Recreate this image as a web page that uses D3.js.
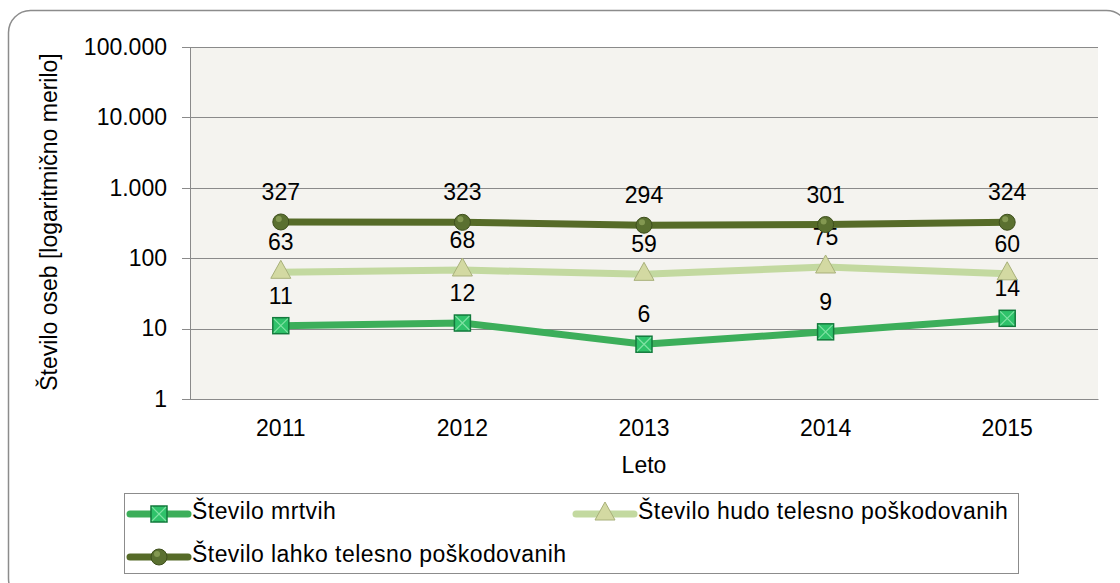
<!DOCTYPE html>
<html>
<head>
<meta charset="utf-8">
<script src="https://cdn.jsdelivr.net/npm/d3@7"></script>
<style>
  body { margin: 0; background: #fff; }
  svg { font-family: "Liberation Sans", Arial, sans-serif; }
</style>
</head>
<body>
<svg id="chart" width="1120" height="583"></svg>
<script>
// Data
const years = ["2011", "2012", "2013", "2014", "2015"];
const mrtvih = [11, 12, 6, 9, 14];
const hudo = [63, 68, 59, 75, 60];
const lahko = [327, 323, 294, 301, 324];
const yTicks = [1, 10, 100, 1000, 10000, 100000];

const series = [
  { name: "Število mrtvih", values: mrtvih, color: "#3cae5a", marker: "square" },
  { name: "Število hudo telesno poškodovanih", values: hudo, color: "#c3d9a0", marker: "triangle" },
  { name: "Število lahko telesno poškodovanih", values: lahko, color: "#566b28", marker: "circle" }
];

const FS = 23;
const svg = d3.select("#chart");

// outer frame
svg.append("rect")
  .attr("x", 8.5).attr("y", 10.5)
  .attr("width", 1120).attr("height", 590)
  .attr("rx", 22)
  .attr("fill", "#fff")
  .attr("stroke", "#8c8c8c")
  .attr("stroke-width", 1.5);

const margin = { top: 47, left: 190, right: 1098, bottom: 399 };

const x = d3.scaleBand()
  .domain(years)
  .range([margin.left, margin.right]);

const y = d3.scaleLog()
  .domain([1, 100000])
  .range([margin.bottom, margin.top]);

// plot background
svg.append("rect")
  .attr("x", margin.left).attr("y", margin.top)
  .attr("width", margin.right - margin.left)
  .attr("height", margin.bottom - margin.top)
  .attr("fill", "#f4f3ef");

// gridlines
svg.append("g")
  .selectAll("line")
  .data(yTicks)
  .enter().append("line")
  .attr("x1", margin.left - 8).attr("x2", margin.right)
  .attr("y1", d => Math.round(y(d)) + 0.5).attr("y2", d => Math.round(y(d)) + 0.5)
  .attr("stroke", "#8a8a8a")
  .attr("stroke-width", 1.2);

// y axis
const yAxis = svg.append("g")
  .attr("transform", "translate(" + margin.left + ",0)")
  .call(d3.axisLeft(y).tickValues(yTicks).tickSize(0).tickPadding(23)
    .tickFormat(d => d3.format(",")(d).replace(/,/g, ".")));
yAxis.select(".domain").attr("stroke", "#8a8a8a");
yAxis.selectAll("text").attr("font-size", FS).attr("fill", "#000")
  .attr("font-family", "Liberation Sans, Arial, sans-serif");

// x axis
const xAxis = svg.append("g")
  .attr("transform", "translate(0," + margin.bottom + ")")
  .call(d3.axisBottom(x).tickSize(0).tickPadding(21));
xAxis.select(".domain").attr("stroke", "#8a8a8a");
xAxis.selectAll("text").attr("font-size", FS).attr("fill", "#000")
  .attr("font-family", "Liberation Sans, Arial, sans-serif");

// axis titles
svg.append("text")
  .attr("x", (margin.left + margin.right) / 2)
  .attr("y", 473)
  .attr("text-anchor", "middle")
  .attr("font-size", FS)
  .text("Leto");

svg.append("text")
  .attr("transform", "translate(57,222) rotate(-90)")
  .attr("text-anchor", "middle")
  .attr("font-size", FS)
  .text("Število oseb [logaritmično merilo]");

const cx = d => x(d) + x.bandwidth() / 2;

const line = d3.line()
  .x((d, i) => cx(years[i]))
  .y(d => y(d));

function drawMarker(g, type, px, py) {
  if (type === "square") {
    g.append("rect")
      .attr("x", px - 8).attr("y", py - 8)
      .attr("width", 16).attr("height", 16)
      .attr("fill", "#2fc26a").attr("stroke", "#137a3c").attr("stroke-width", 1.5);
    g.append("path")
      .attr("d", `M${px - 7},${py - 7}L${px + 7},${py + 7}M${px + 7},${py - 7}L${px - 7},${py + 7}`)
      .attr("stroke", "#7fe2a3").attr("stroke-width", 1.2);
  } else if (type === "triangle") {
    g.append("path")
      .attr("d", `M${px},${py - 12}L${px + 10},${py + 6}L${px - 10},${py + 6}Z`)
      .attr("fill", "#d3d9a2").attr("stroke", "#a8b07a").attr("stroke-width", 1);
  } else {
    g.append("circle")
      .attr("cx", px).attr("cy", py).attr("r", 8)
      .attr("fill", "#5a7030").attr("stroke", "#3e4f1c").attr("stroke-width", 1);
    g.append("circle")
      .attr("cx", px - 2).attr("cy", py - 3).attr("r", 3)
      .attr("fill", "#8da25a").attr("opacity", 0.8);
  }
}

// lines
series.forEach(s => {
  svg.append("path")
    .datum(s.values)
    .attr("fill", "none")
    .attr("stroke", s.color)
    .attr("stroke-width", 7)
    .attr("d", line);
});

// markers and value labels
series.forEach(s => {
  const g = svg.append("g");
  s.values.forEach((v, i) => drawMarker(g, s.marker, cx(years[i]), y(v)));
  svg.append("g")
    .selectAll("text")
    .data(s.values)
    .enter().append("text")
    .attr("x", (d, i) => cx(years[i]))
    .attr("y", d => y(d) - 22)
    .attr("text-anchor", "middle")
    .attr("font-size", FS)
    .attr("fill", "#000")
    .text(d => d);
});

// legend
svg.append("rect")
  .attr("x", 124.5).attr("y", 493.5)
  .attr("width", 894).attr("height", 80)
  .attr("fill", "#fff")
  .attr("stroke", "#8c8c8c")
  .attr("stroke-width", 1);

const legendPos = [
  { x: 130, y: 514 },
  { x: 576, y: 514 },
  { x: 130, y: 557 }
];

series.forEach((s, i) => {
  const p = legendPos[i];
  const g = svg.append("g");
  g.append("line")
    .attr("x1", p.x).attr("x2", p.x + 58)
    .attr("y1", p.y).attr("y2", p.y)
    .attr("stroke", s.color).attr("stroke-width", 7)
    .attr("stroke-linecap", "round");
  drawMarker(g, s.marker, p.x + 29, p.y);
  g.append("text")
    .attr("x", p.x + 62)
    .attr("y", p.y + 5)
    .attr("font-size", FS)
    .attr("letter-spacing", 0.45)
    .attr("fill", "#000")
    .text(s.name);
});
</script>
</body>
</html>
